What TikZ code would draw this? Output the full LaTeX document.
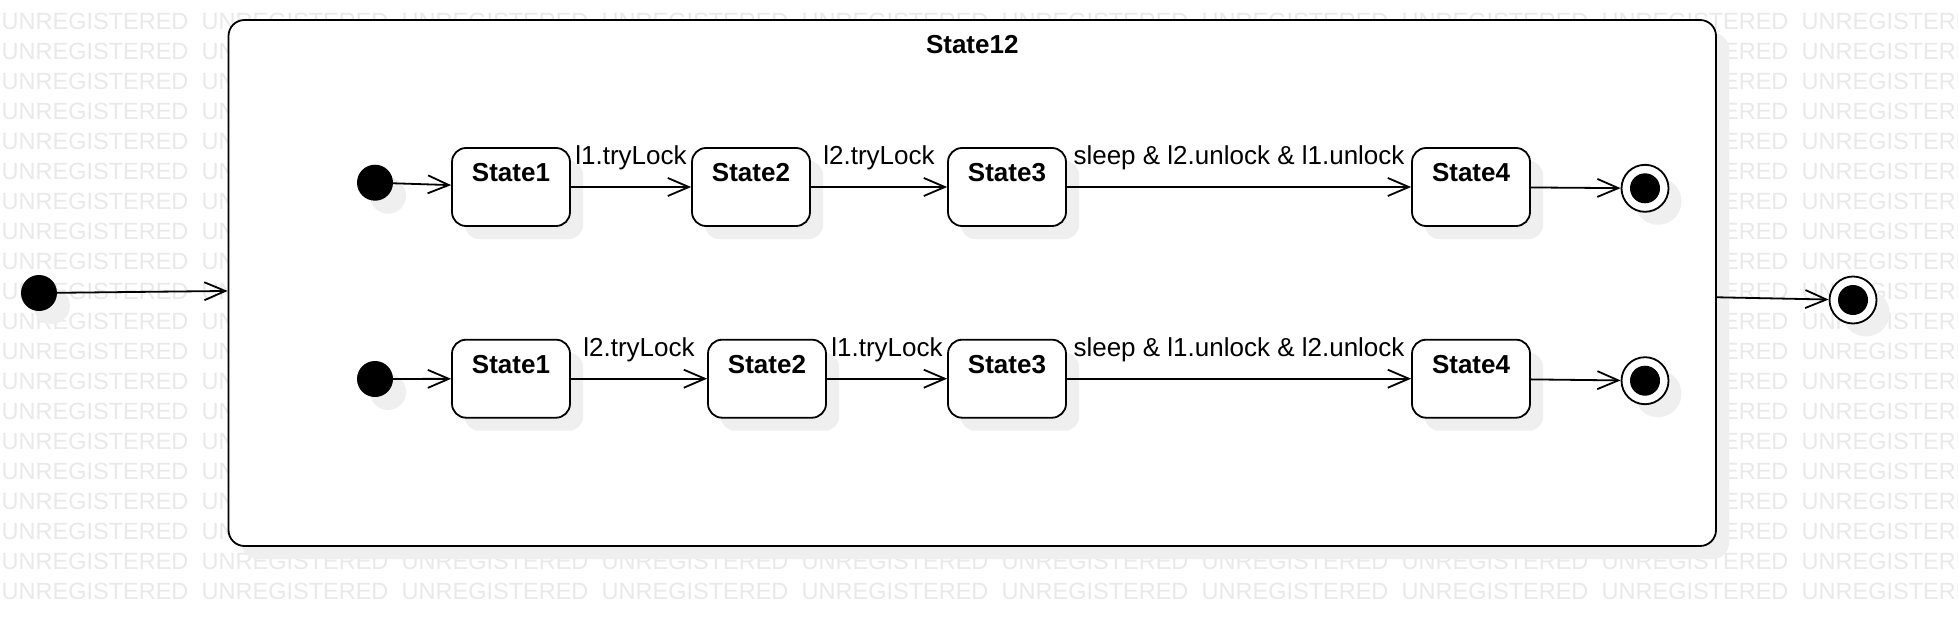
\documentclass[tikz,border=0pt]{standalone}
\usepackage{fontspec}
\setmainfont{Liberation Sans}
\usetikzlibrary{arrows.meta,shadows}
\definecolor{wmc}{RGB}{233,233,233}
\definecolor{shc}{RGB}{239,239,239}
\begin{document}
\begin{tikzpicture}[x=1pt,y=-1pt,
  shd/.style={drop shadow={shadow xshift=13pt,shadow yshift=-13pt,fill=shc,opacity=1}},
  stbox/.style={draw,line width=1.8pt,fill=white,rounded corners=14pt,minimum width=118pt,minimum height=78pt,inner sep=0pt,text height=33.7pt,text depth=44.3pt,font=\fontsize{26}{30}\selectfont\bfseries,shd},
  comp/.style={draw,line width=1.8pt,fill=white,rounded corners=16pt,minimum width=1487.5pt,minimum height=526pt,inner sep=0pt,text height=33.3pt,text depth=492.7pt,font=\fontsize{26}{30}\selectfont\bfseries,shd},
  initdot/.style={circle,fill=black,minimum size=36pt,inner sep=0pt,shd},
  finc/.style={circle,draw,line width=1.8pt,fill=white,minimum size=47pt,inner sep=0pt,shd},
  arr/.style={line width=1.8pt,-{Straight Barb[length=21pt,width=18pt]}},
  lbl/.style={anchor=base,yshift=22.5pt,font=\fontsize{26}{30}\selectfont,inner sep=0pt},
  wm/.style={anchor=base west,inner sep=0pt,text=wmc,font=\fontsize{23.5}{28}\selectfont}
]
\useasboundingbox (0,0) rectangle (1958,626);
\fill[white] (0,0) rectangle (1958,626);
\begin{scope}
\clip (0,0) rectangle (1958,626);
\foreach \r in {1,...,20} {
  \foreach \c in {0,...,9} {
    \node[wm] (wm-\r-\c) at ({1.5+200*\c},{29.3+30*(\r-1)}) {UNREGISTERED};
  }
}
\end{scope}

\node[comp] (s12) at (972.25,283) {State12};

% row 1
\node[initdot] (i1) at (375,182.7) {};
\node[stbox] (a1) at (511,187) {State1};
\node[stbox] (a2) at (751,187) {State2};
\node[stbox] (a3) at (1007,187) {State3};
\node[stbox] (a4) at (1471,187) {State4};
\node[finc] (f1) at (1645,188.3) {};
\fill (f1.center) circle[radius=15pt];

% row 2
\node[initdot] (i2) at (375,379) {};
\node[stbox] (b1) at (511,378.7) {State1};
\node[stbox] (b2) at (767,378.7) {State2};
\node[stbox] (b3) at (1007,378.7) {State3};
\node[stbox] (b4) at (1471,378.7) {State4};
\node[finc] (f2) at (1645,380.7) {};
\fill (f2.center) circle[radius=15pt];

% outer
\node[initdot] (i0) at (39,293) {};
\node[finc] (f0) at (1853,300) {};
\fill (f0.center) circle[radius=15pt];

\draw[arr] (i0) -- (s12);
\draw[arr] (s12) -- (f0);

\draw[arr] (i1) -- (a1);
\draw[arr] (a1) -- node[lbl] {l1.tryLock} (a2);
\draw[arr] (a2) -- node[lbl] {l2.tryLock} (a3);
\draw[arr] (a3) -- node[lbl] {sleep \& l2.unlock \& l1.unlock} (a4);
\draw[arr] (a4) -- (f1);

\draw[arr] (i2) -- (b1);
\draw[arr] (b1) -- node[lbl] {l2.tryLock} (b2);
\draw[arr] (b2) -- node[lbl] {l1.tryLock} (b3);
\draw[arr] (b3) -- node[lbl] {sleep \& l1.unlock \& l2.unlock} (b4);
\draw[arr] (b4) -- (f2);
\end{tikzpicture}
\end{document}
